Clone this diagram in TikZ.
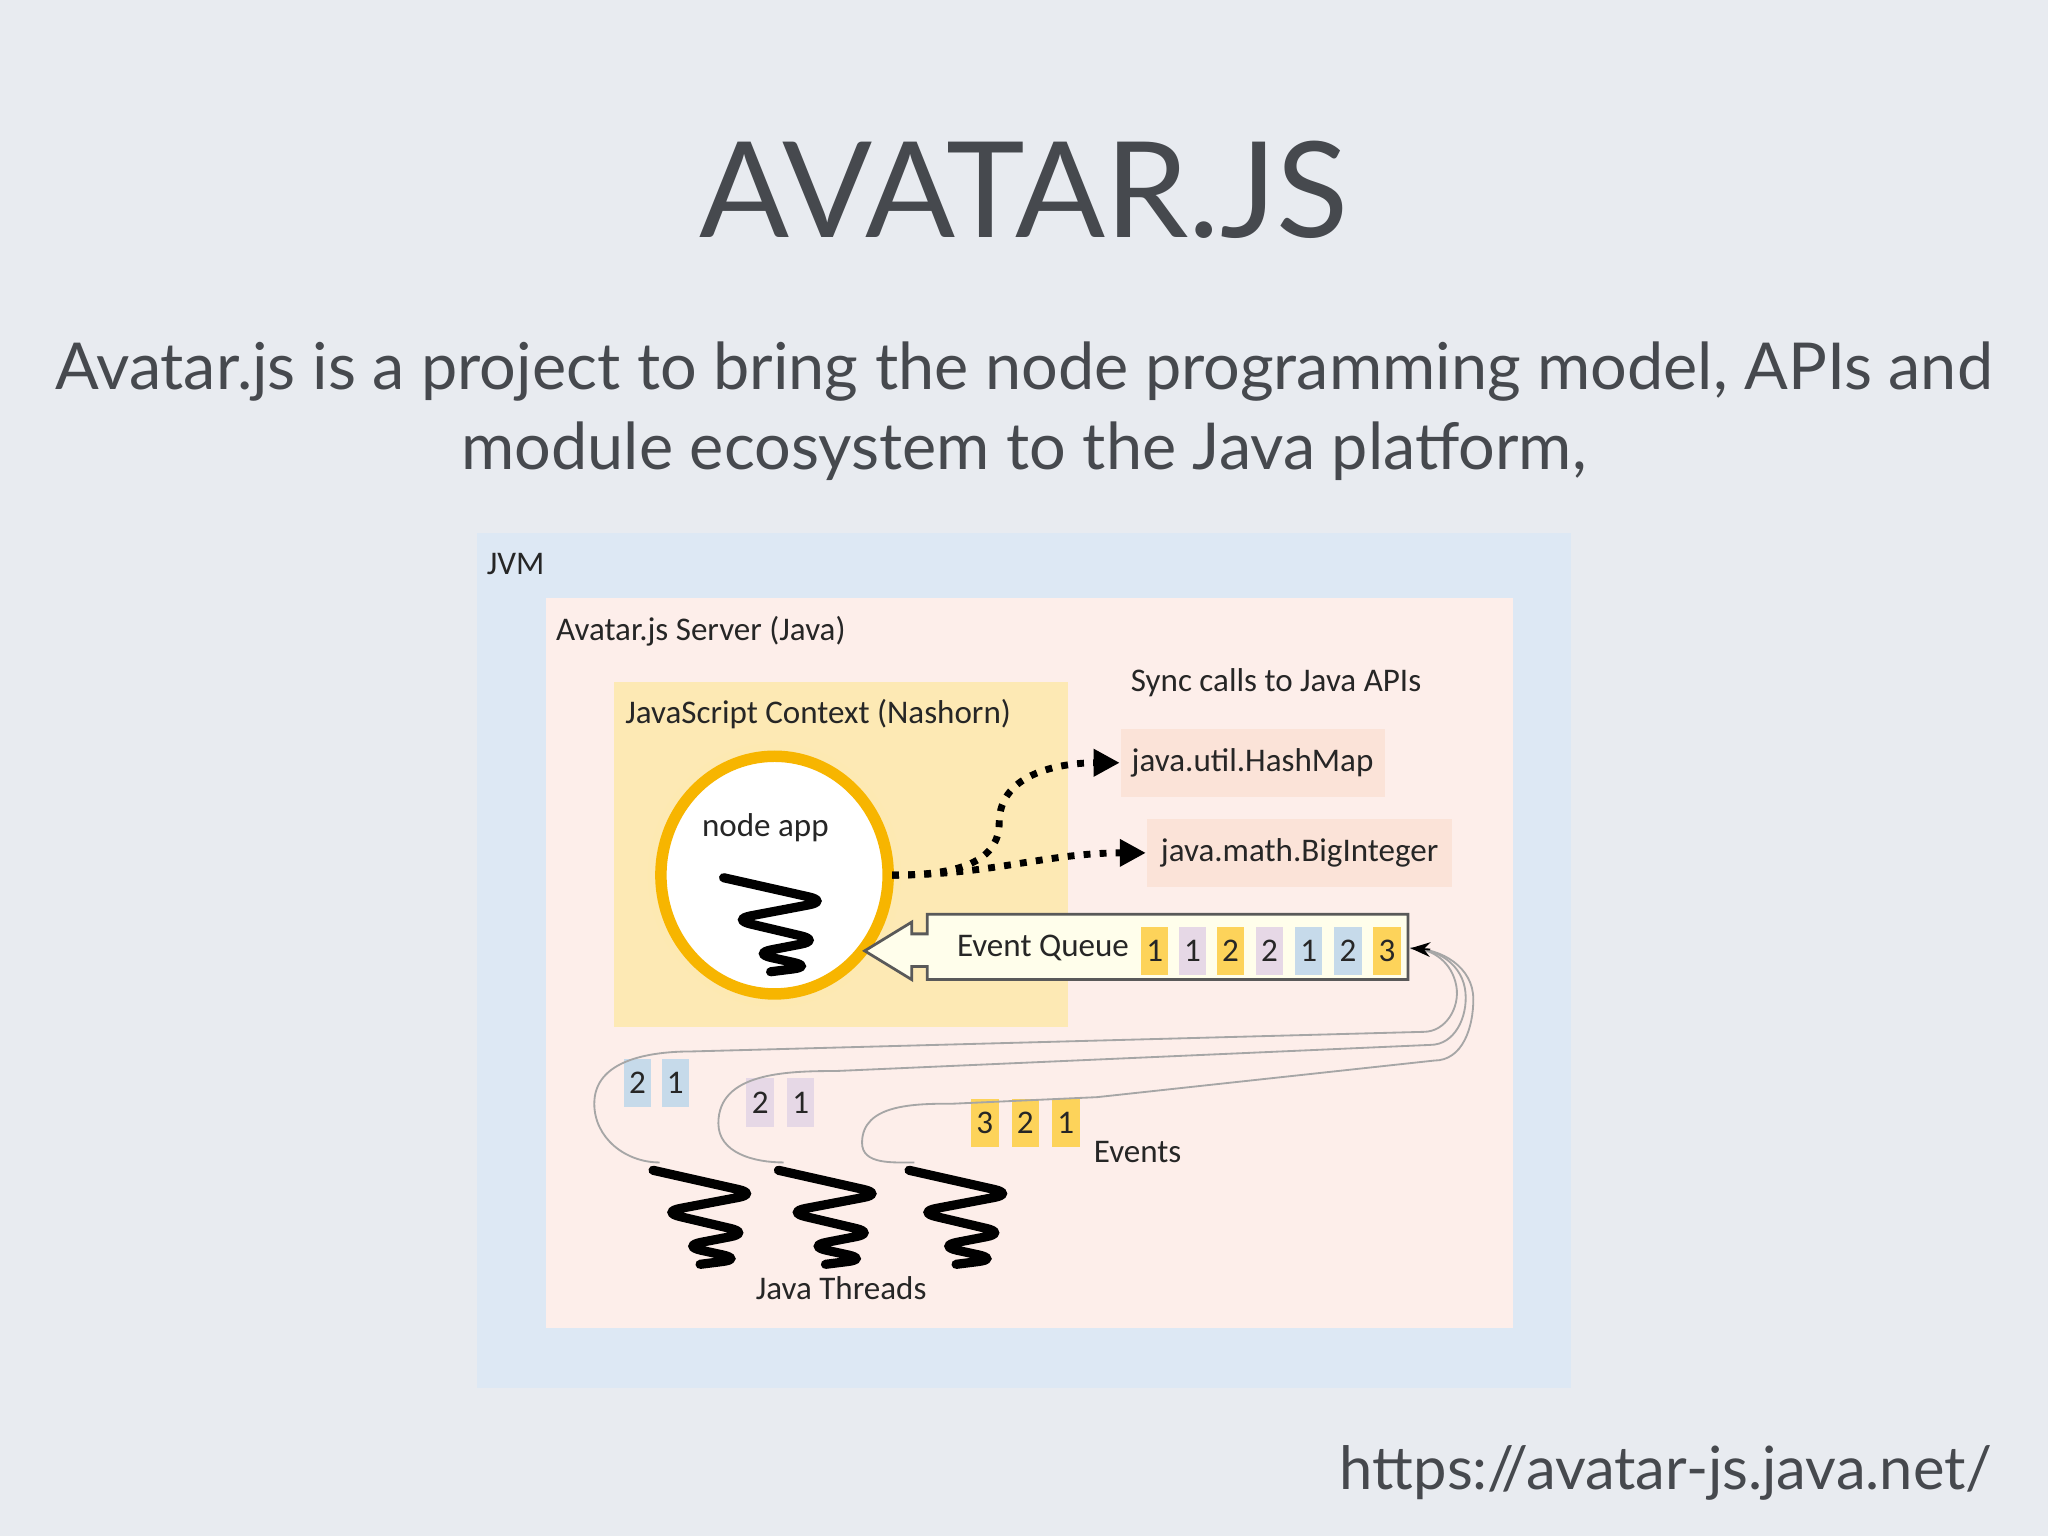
\documentclass[tikz,border=0pt]{standalone}
\usepackage{fontspec}
\setmainfont{Lato}
\newfontfamily\diag{Carlito}
\usetikzlibrary{arrows.meta,positioning,calc}
\definecolor{slidebg}{HTML}{E8EBF0}
\definecolor{jvmblue}{HTML}{DDE8F4}
\definecolor{serverpink}{HTML}{FDEEEA}
\definecolor{ctxyellow}{HTML}{FDE9B4}
\definecolor{ringgold}{HTML}{F7B500}
\definecolor{apibox}{HTML}{FBE3D8}
\definecolor{evyellow}{HTML}{FDD35A}
\definecolor{evpurple}{HTML}{E6D8E6}
\definecolor{evblue}{HTML}{C6DAEA}
\definecolor{textgray}{HTML}{46494E}
\tikzset{
  lbl/.style={font=\diag\fontsize{7.2}{9}\selectfont, text=black!85, inner sep=0pt},
  cell/.style={lbl, minimum width=0.21cm, minimum height=0.37cm, inner sep=0pt},
  apicall/.style={lbl, fill=apibox, minimum height=0.52cm, inner xsep=0.08cm},
  syncline/.style={line width=1.5pt, dotted, -{Triangle[length=2mm,width=2mm]}},
  evline/.style={gray!70, line width=0.4pt},
  springline/.style={line width=2pt, rounded corners=1.5mm, line cap=round},
  pics/spring/.style={code={
    \draw[springline] (-0.42,0.26) -- (0.38,0.08) -- (-0.36,-0.06) -- (0.32,-0.22)
      -- (-0.2,-0.32) -- (0.26,-0.42) -- (-0.06,-0.46);}}
}
\begin{document}
\begin{tikzpicture}[x=1cm,y=1cm]
  \fill[slidebg] (0,0) rectangle (15.68,-11.76);
  \useasboundingbox (0,0) rectangle (15.68,-11.76);

  % slide texts
  \node[text=textgray, font=\fontsize{29}{34}\selectfont] (title) at (7.84,-1.45) {AVATAR.JS};
  \node[text=textgray, font=\fontsize{14.1}{18}\selectfont, align=center] (sub) at (7.84,-3.15)
    {Avatar.js is a project to bring the node programming model, APIs and\\[-0.5pt] module ecosystem to the Java platform,};
  \node[text=textgray, font=\fontsize{13}{16}\selectfont, anchor=east] (url) at (15.38,-11.28) {https://avatar-js.java.net/};

  % boxes
  \fill[jvmblue] (3.65,-4.08) rectangle (12.03,-10.63);
  \node[lbl, anchor=west] (jvm) at (3.72,-4.32) {JVM};
  \fill[serverpink] (4.18,-4.58) rectangle (11.58,-10.17);
  \node[lbl, anchor=west] (server) at (4.25,-4.83) {Avatar.js Server (Java)};
  \fill[ctxyellow] (4.70,-5.22) rectangle (8.18,-7.86);
  \node[lbl, anchor=west] (ctx) at (4.78,-5.47) {JavaScript Context (Nashorn)};

  % node app
  \fill[ringgold!30] (5.93,-6.70) ellipse (0.97 and 1.01);
  \draw[ringgold, line width=2.5pt, fill=white] (5.93,-6.70) ellipse (0.87 and 0.91);
  \node[lbl] (app) at (5.86,-6.34) {node app};
  \pic at (5.96,-6.98) {spring};
  \coordinate (appout) at (6.83,-6.70);

  % java apis
  \node[lbl] (sync) at (9.77,-5.23) {Sync calls to Java APIs};
  \node[apicall, minimum width=2.02cm] (hashmap) at (9.59,-5.84) {java.util.HashMap};
  \node[apicall, minimum width=2.34cm] (bigint) at (9.95,-6.53) {java.math.BigInteger};
  \draw[syncline] (appout) to[out=0,in=-90] (7.65,-6.3) to[out=90,in=180] (hashmap.west);
  \draw[syncline] (appout) to[out=0,in=180] (bigint.west);

  % event queue
  \draw[gray!70!black, line width=0.6pt, fill=yellow!8]
    (6.62,-7.28) -- (6.98,-7.06) -- (6.98,-7.15) -- (7.10,-7.15) -- (7.10,-7.00)
    -- (10.78,-7.00) -- (10.78,-7.50) -- (7.10,-7.50) -- (7.10,-7.40) -- (6.98,-7.40)
    -- (6.98,-7.50) -- cycle;
  \node[lbl, anchor=west] (qlabel) at (7.32,-7.26) {Event Queue};
  \foreach \x/\c/\n [count=\i] in {8.84/evyellow/1, 9.13/evpurple/1, 9.42/evyellow/2, 9.72/evpurple/2,
                           10.02/evblue/1, 10.32/evblue/2, 10.62/evyellow/3}
    \node[cell, fill=\c] (q\i) at (\x,-7.28) {\n};

  % threads and their events
  \foreach \x/\c/\n [count=\i] in {4.88/evblue/2, 5.17/evblue/1}
    \node[cell, fill=\c] (ta\i) at (\x,-8.29) {\n};
  \foreach \x/\c/\n [count=\i] in {5.82/evpurple/2, 6.13/evpurple/1}
    \node[cell, fill=\c] (tb\i) at (\x,-8.44) {\n};
  \foreach \x/\c/\n [count=\i] in {7.54/evyellow/3, 7.85/evyellow/2, 8.16/evyellow/1}
    \node[cell, fill=\c] (tc\i) at (\x,-8.60) {\n};
  \node[lbl] (events) at (8.71,-8.82) {Events};
  \pic at (5.42,-9.22) {spring};
  \pic at (6.38,-9.22) {spring};
  \pic at (7.38,-9.22) {spring};
  \node[lbl] (threads) at (6.44,-9.86) {Java Threads};

  % event paths into the queue
  \coordinate (qend) at (10.80,-7.26);
  \draw[evline] (5.05,-8.9) to[out=180,in=-90] (4.55,-8.45) to[out=90,in=180] (5.3,-8.05)
     -- (10.9,-7.9) to[out=0,in=-80] (11.15,-7.55) to[out=100,in=0] (qend);
  \draw[evline] (6.0,-8.9) to[out=180,in=-90] (5.5,-8.6) to[out=90,in=180] (6.4,-8.2)
     -- (10.95,-8.0) to[out=0,in=-85] (11.22,-7.6) to[out=95,in=0] (qend);
  \draw[evline] (7.0,-8.9) to[out=180,in=-90] (6.6,-8.75) to[out=90,in=180] (7.3,-8.45)
     -- (8.4,-8.4) -- (10.98,-8.12) to[out=0,in=-90] (11.28,-7.65) to[out=90,in=0] (qend);
  \draw[-{Stealth[length=1.5mm]}, black, line width=0.4pt] (10.95,-7.27) -- (qend);
\end{tikzpicture}
\end{document}
